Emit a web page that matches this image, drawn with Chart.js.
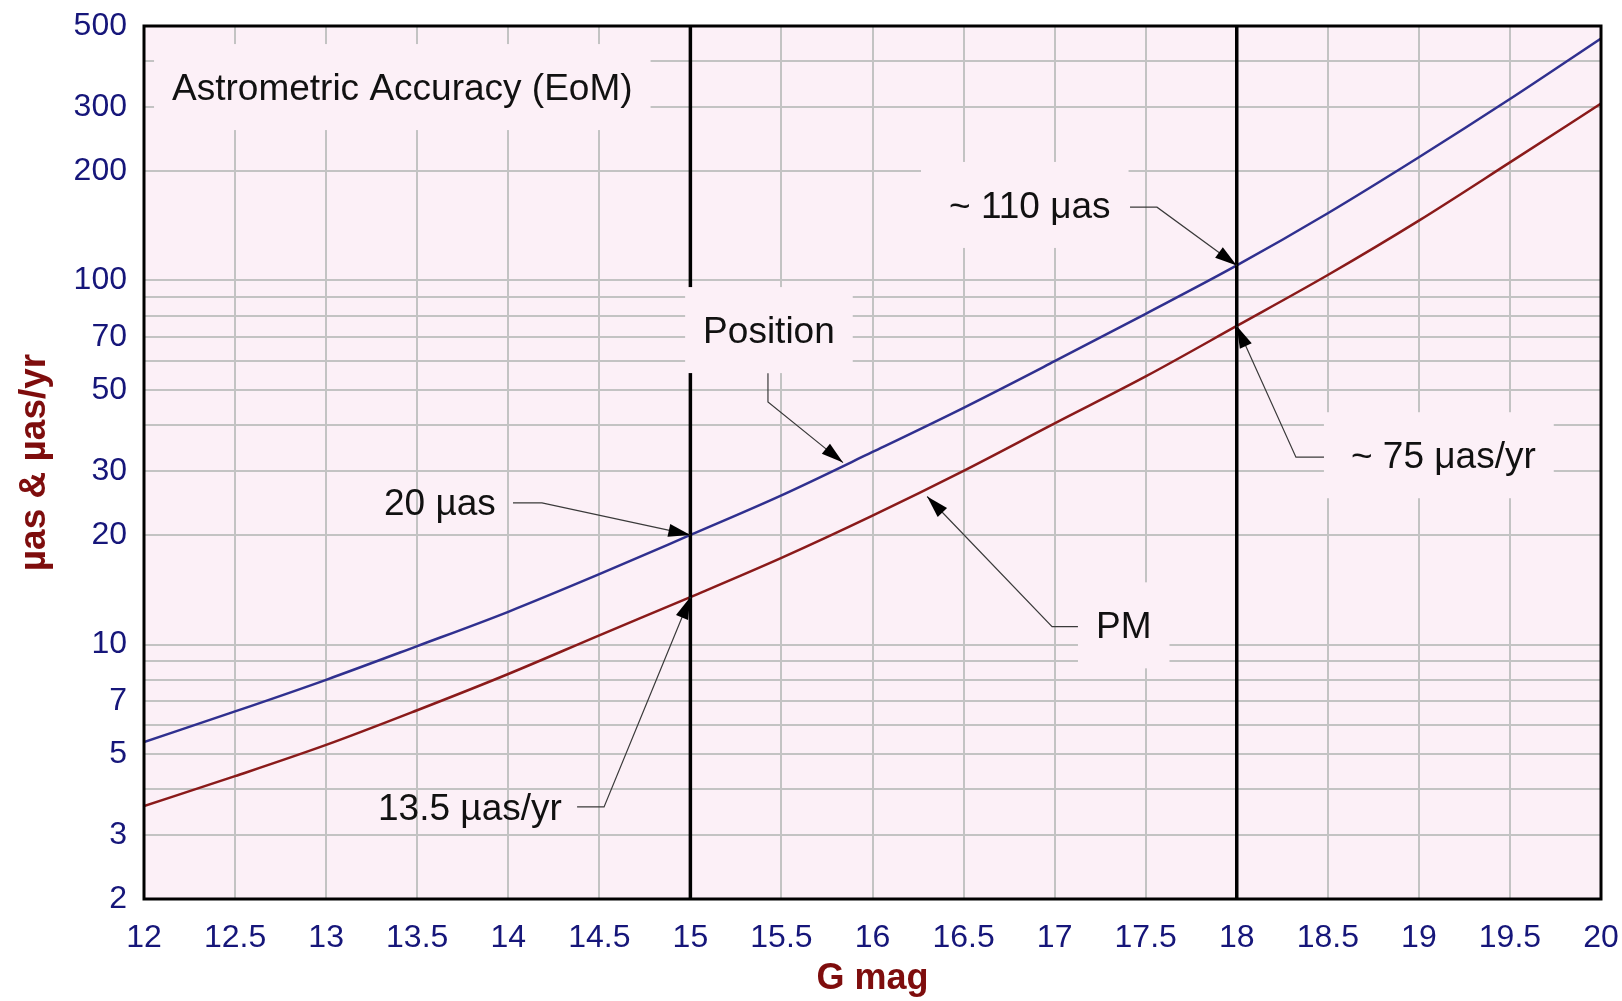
<!DOCTYPE html>
<html>
<head>
<meta charset="utf-8">
<title>Astrometric Accuracy (EoM)</title>
<script src="https://cdn.jsdelivr.net/npm/chart.js@4.4.1/dist/chart.umd.min.js"></script>
<style>
  html, body { margin: 0; padding: 0; background: #ffffff; }
  #wrap { width: 1622px; height: 1001px; }
</style>
</head>
<body>
<div id="wrap"><canvas id="chart" width="1622" height="1001"></canvas></div>
<script>
// G magnitude grid and end-of-mission accuracies
const gMag        = [12, 12.5, 13, 13.5, 14, 14.5, 15, 15.5, 16, 16.5, 17, 17.5, 18, 18.5, 19, 19.5, 20];
const positionAcc = [5.4, 6.55, 8.0, 9.9, 12.3, 15.6, 20, 25.7, 33.8, 44.7, 60, 81, 110, 153, 218, 315, 462];   // µas
const pmAcc       = [3.6, 4.35, 5.3, 6.6, 8.3, 10.6, 13.5, 17.3, 22.6, 30, 40.5, 54.5, 75, 103.5, 146, 211, 306]; // µas/yr

// axis ticks
const xTickStep   = 0.5;
const yGridValues = [2, 3, 4, 5, 6, 7, 8, 9, 10, 20, 30, 40, 50, 60, 70, 80, 90, 100, 200, 300, 400, 500];
const yTickLabels = [2, 3, 5, 7, 10, 20, 30, 50, 70, 100, 200, 300, 500];

// reference magnitudes marked with heavy vertical rules
const markerMags = [15, 18];

const at = (arr, g) => arr[gMag.indexOf(g)];

// callout labels, anchored in data units (G mag, value)
const callouts = [
  { text: 'Astrometric Accuracy (EoM)', anchor: [12.154, 313], box: true, leader: null },
  { text: 'Position', anchor: [15.07, 67.3], box: true,
    leader: [[15.426, 55.6], [15.426, 46.4], [15.838, 31.6]] },
  { text: '20 µas', anchor: [13.318, 22.7], box: false,
    leader: [[14.026, 24.5], [14.185, 24.5], [15, at(positionAcc, 15)]] },
  { text: '13.5 µas/yr', anchor: [13.285, 3.29], box: false,
    leader: [[14.378, 3.58], [14.526, 3.58], [15, at(pmAcc, 15)]] },
  { text: '~ 110 μas', anchor: [16.42, 148.5], box: true, padLeft: 28,
    leader: [[17.414, 159], [17.562, 159], [18, at(positionAcc, 18)]] },
  { text: '~ 75 μas/yr', anchor: [18.627, 30.5], box: true, padLeft: 27,
    leader: [[18.479, 32.7], [18.325, 32.7], [18, at(pmAcc, 18)]] },
  { text: 'PM', anchor: [17.227, 10.4], box: true,
    leader: [[17.128, 11.2], [16.986, 11.2], [16.30, 25.5]] }
];

const PLOT_BG = '#fcf0f7';
const FONT = '"Liberation Sans", Arial, Helvetica, sans-serif';

const plotBackground = {
  id: 'plotBackground',
  beforeDraw(chart) {
    const { ctx, chartArea: a } = chart;
    ctx.save();
    ctx.fillStyle = PLOT_BG;
    ctx.fillRect(a.left, a.top, a.right - a.left, a.bottom - a.top);
    ctx.restore();
  }
};

function arrowHead(ctx, from, to, len, half) {
  const dx = to.x - from.x, dy = to.y - from.y;
  const d = Math.hypot(dx, dy) || 1;
  const ux = dx / d, uy = dy / d;
  const bx = to.x - ux * len, by = to.y - uy * len;
  ctx.beginPath();
  ctx.moveTo(to.x, to.y);
  ctx.lineTo(bx - uy * half, by + ux * half);
  ctx.lineTo(bx + uy * half, by - ux * half);
  ctx.closePath();
  ctx.fill();
}

const overlay = {
  id: 'overlay',
  afterDatasetsDraw(chart) {
    const { ctx, chartArea: a, scales: { x, y } } = chart;
    const px = (p) => ({ x: x.getPixelForValue(p[0]), y: y.getPixelForValue(p[1]) });
    ctx.save();

    // heavy rules at the reference magnitudes
    ctx.strokeStyle = '#000000';
    ctx.lineWidth = 3.5;
    markerMags.forEach(g => {
      const xp = x.getPixelForValue(g);
      ctx.beginPath();
      ctx.moveTo(xp, a.top);
      ctx.lineTo(xp, a.bottom);
      ctx.stroke();
    });

    // plot frame
    ctx.lineWidth = 3;
    ctx.strokeRect(a.left, a.top, a.right - a.left, a.bottom - a.top);

    ctx.font = '37px ' + FONT;
    ctx.textBaseline = 'alphabetic';
    ctx.textAlign = 'left';

    // label boxes in plot colour, hiding the grid behind the text
    callouts.forEach(c => {
      if (!c.box) return;
      const p = px(c.anchor);
      const w = ctx.measureText(c.text).width;
      const pl = c.padLeft || 18, pr = c.padRight || 18;
      ctx.fillStyle = PLOT_BG;
      ctx.fillRect(p.x - pl, p.y - 56, w + pl + pr, 86);
    });

    // texts
    ctx.fillStyle = '#111111';
    callouts.forEach(c => {
      const p = px(c.anchor);
      ctx.fillText(c.text, p.x, p.y);
    });

    // leaders with arrow heads
    ctx.strokeStyle = '#3a3a3a';
    ctx.fillStyle = '#000000';
    ctx.lineWidth = 1.2;
    callouts.forEach(c => {
      if (!c.leader) return;
      const pts = c.leader.map(px);
      ctx.beginPath();
      ctx.moveTo(pts[0].x, pts[0].y);
      for (let i = 1; i < pts.length; i++) ctx.lineTo(pts[i].x, pts[i].y);
      ctx.stroke();
      arrowHead(ctx, pts[pts.length - 2], pts[pts.length - 1], 22, 6.5);
    });

    ctx.restore();
  }
};

new Chart(document.getElementById('chart'), {
  type: 'line',
  data: {
    datasets: [
      {
        label: 'Position',
        data: gMag.map((g, i) => ({ x: g, y: positionAcc[i] })),
        borderColor: '#30308f',
        borderWidth: 2.5,
        pointRadius: 0,
        cubicInterpolationMode: 'monotone',
        fill: false
      },
      {
        label: 'PM',
        data: gMag.map((g, i) => ({ x: g, y: pmAcc[i] })),
        borderColor: '#8a1a1a',
        borderWidth: 2.5,
        pointRadius: 0,
        cubicInterpolationMode: 'monotone',
        fill: false
      }
    ]
  },
  options: {
    responsive: false,
    animation: false,
    devicePixelRatio: 1,
    layout: { padding: { top: 26, right: 21, left: 0, bottom: 0 } },
    plugins: {
      legend: { display: false },
      tooltip: { enabled: false }
    },
    scales: {
      x: {
        type: 'linear',
        min: 12,
        max: 20,
        afterFit: s => {
          s.height = 102;
          s.paddingLeft = 0; s.paddingRight = 0; s.paddingTop = 0; s.paddingBottom = 0;
        },
        border: { display: false },
        grid: { color: '#c3c3c3', lineWidth: 2, drawTicks: false },
        ticks: {
          stepSize: xTickStep,
          autoSkip: false,
          maxRotation: 0,
          padding: 20,
          color: '#16167a',
          font: { family: FONT, size: 32 },
          callback: v => String(v)
        },
        title: {
          display: true,
          text: 'G mag',
          color: '#7e0d0d',
          font: { family: FONT, size: 36, weight: 'bold' },
          padding: { top: 0, bottom: 0 }
        }
      },
      y: {
        type: 'logarithmic',
        min: 2,
        max: 500,
        afterFit: s => {
          s.width = 144;
          s.paddingLeft = 0; s.paddingRight = 0; s.paddingTop = 0; s.paddingBottom = 0;
        },
        afterBuildTicks: s => { s.ticks = yGridValues.map(v => ({ value: v })); },
        border: { display: false },
        grid: { color: '#c3c3c3', lineWidth: 2, drawTicks: false },
        ticks: {
          autoSkip: false,
          padding: 17,
          color: '#16167a',
          font: { family: FONT, size: 32 },
          callback: v => (yTickLabels.includes(v) ? String(v) : '')
        },
        title: {
          display: true,
          text: 'µas & µas/yr',
          color: '#7e0d0d',
          font: { family: FONT, size: 37, weight: 'bold' },
          padding: { top: 13, bottom: 0 }
        }
      }
    }
  },
  plugins: [plotBackground, overlay]
});
</script>
</body>
</html>
